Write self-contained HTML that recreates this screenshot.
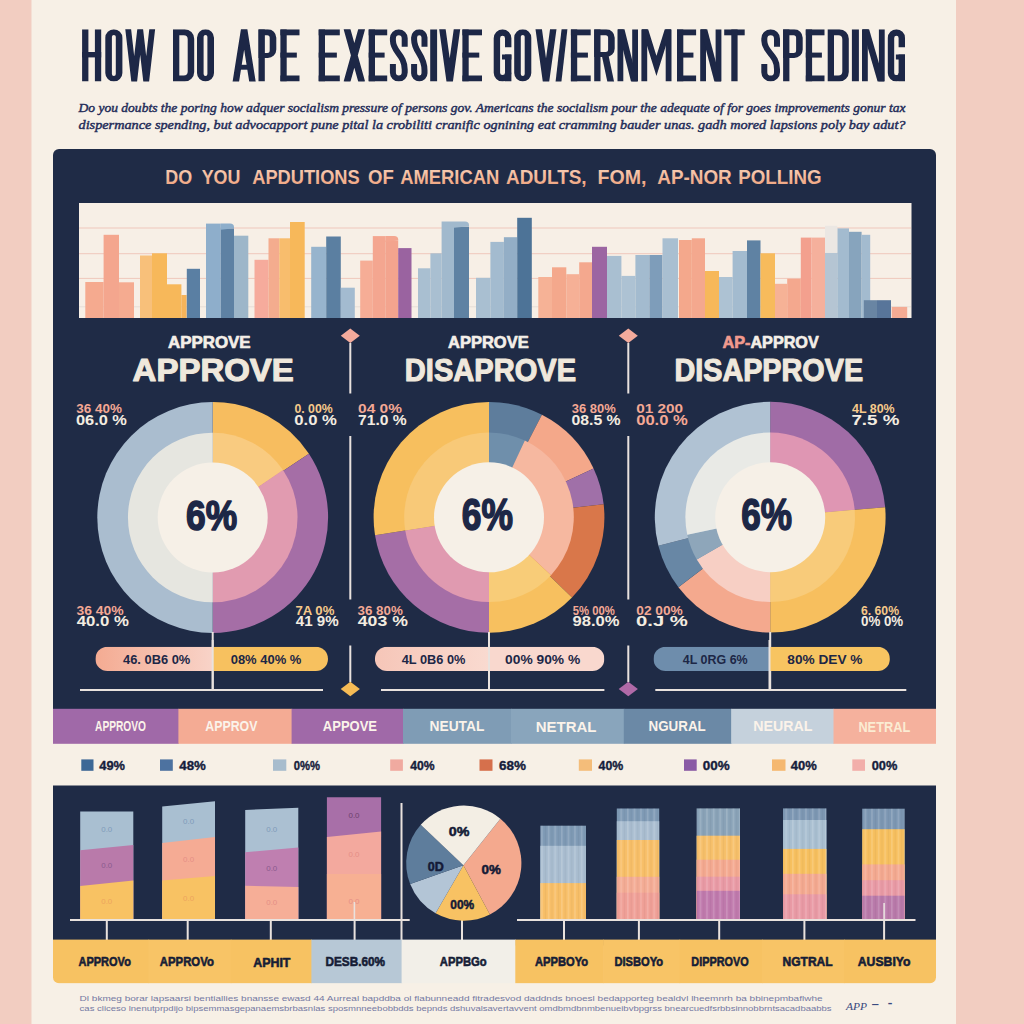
<!DOCTYPE html>
<html><head><meta charset="utf-8"><style>
html,body{margin:0;padding:0;width:1024px;height:1024px;overflow:hidden;background:#f7f0e6;}
svg{display:block;}
</style></head><body>
<svg width="1024" height="1024" viewBox="0 0 1024 1024">
<rect x="0.00" y="0.00" width="1024.00" height="1024.00" fill="#f7f0e6"/>
<rect x="0.00" y="0.00" width="31.50" height="1024.00" fill="#f2cdc1"/>
<rect x="956.00" y="0.00" width="68.00" height="1024.00" fill="#f2cdc1"/>
<clipPath id="tclip"><rect x="0" y="29.3" width="1024" height="52.2"/></clipPath>
<g clip-path="url(#tclip)" fill="#1d2746" stroke="#1d2746" stroke-width="0">
<rect x="82.10" y="29.30" width="6.30" height="52.20"/><rect x="94.90" y="29.30" width="6.30" height="52.20"/><rect x="82.10" y="52.00" width="19.10" height="5.40"/>
<path fill-rule="evenodd" d="M105.30,37.85 A8.55,8.55 0 0 1 122.40,37.85 V72.95 A8.55,8.55 0 0 1 105.30,72.95 Z M111.90,36.85 A1.95,1.95 0 0 1 115.80,36.85 V73.95 A1.95,1.95 0 0 1 111.90,73.95 Z"/>
<path d="M128.10,28.30 L134.20,81.50 L140.20,29.30 L146.20,81.50 L152.30,28.30" fill="none" stroke-width="5.8" stroke-miterlimit="30"/>
<path fill-rule="evenodd" d="M173.00,29.30 H184.70 A9.50,9.50 0 0 1 194.20,38.80 V72.00 A9.50,9.50 0 0 1 184.70,81.50 H173.00 Z M179.30,35.30 H183.70 A4.00,4.00 0 0 1 187.70,39.30 V71.50 A4.00,4.00 0 0 1 183.70,75.50 H179.30 Z"/>
<path fill-rule="evenodd" d="M197.00,37.80 A8.50,8.50 0 0 1 214.00,37.80 V73.00 A8.50,8.50 0 0 1 197.00,73.00 Z M203.60,36.80 A1.90,1.90 0 0 1 207.40,36.80 V74.00 A1.90,1.90 0 0 1 203.60,74.00 Z"/>
<path d="M235.70,82.50 L244.15,29.30 L252.60,82.50" fill="none" stroke-width="6.4" stroke-miterlimit="30"/><rect x="236.50" y="64.80" width="15.30" height="4.90"/>
<rect x="258.50" y="29.30" width="6.30" height="52.20"/><path fill-rule="evenodd" d="M258.50,29.30 H267.80 A8.50,8.50 0 0 1 276.30,37.80 V49.50 A8.50,8.50 0 0 1 267.80,58.00 H258.50 Z M264.30,35.30 H267.20 A2.50,2.50 0 0 1 269.70,37.80 V50.50 A2.50,2.50 0 0 1 267.20,53.00 H264.30 Z"/>
<rect x="280.40" y="29.30" width="6.30" height="52.20"/><rect x="280.40" y="29.30" width="19.10" height="6.00"/><rect x="280.40" y="75.50" width="19.10" height="6.00"/><rect x="280.40" y="52.60" width="16.43" height="5.00"/>
<rect x="318.70" y="29.30" width="6.30" height="52.20"/><rect x="318.70" y="29.30" width="21.10" height="6.00"/><rect x="318.70" y="75.50" width="21.10" height="6.00"/><rect x="318.70" y="52.60" width="18.15" height="5.00"/>
<path d="M346.80,28.30 L361.90,82.50 M361.90,28.30 L346.80,82.50" fill="none" stroke-width="6.6" stroke-miterlimit="30"/>
<rect x="368.70" y="29.30" width="6.30" height="52.20"/><rect x="368.70" y="29.30" width="18.50" height="6.00"/><rect x="368.70" y="75.50" width="18.50" height="6.00"/><rect x="368.70" y="52.60" width="15.91" height="5.00"/>
<path d="M404.70,46.80 V38.20 A5.90,5.90 0 0 0 392.90,38.20 V40.20 C392.90,52.40 404.70,54.40 404.70,69.60 V72.60 A5.90,5.90 0 0 1 392.90,72.60 V64.00" fill="none" stroke-width="6.0" stroke-miterlimit="4"/>
<path d="M424.50,46.80 V37.50 A5.20,5.20 0 0 0 414.10,37.50 V39.50 C414.10,52.40 424.50,54.40 424.50,70.30 V73.30 A5.20,5.20 0 0 1 414.10,73.30 V64.00" fill="none" stroke-width="6.0" stroke-miterlimit="4"/>
<rect x="430.20" y="29.30" width="6.90" height="52.20"/>
<path d="M442.30,28.30 L449.70,81.50 L457.10,28.30" fill="none" stroke-width="6.4" stroke-miterlimit="30"/>
<rect x="462.40" y="29.30" width="6.30" height="52.20"/><rect x="462.40" y="29.30" width="19.60" height="6.00"/><rect x="462.40" y="75.50" width="19.60" height="6.00"/><rect x="462.40" y="52.60" width="16.86" height="5.00"/>
<path d="M508.20,47.30 V38.15 A5.65,5.65 0 0 0 496.90,38.15 V72.65 A5.65,5.65 0 0 0 508.20,72.65" fill="none" stroke-width="6.4" stroke-miterlimit="30"/><rect x="505.00" y="54.50" width="6.40" height="27.00"/><rect x="502.02" y="54.50" width="9.38" height="5.00"/>
<path fill-rule="evenodd" d="M514.20,37.85 A8.55,8.55 0 0 1 531.30,37.85 V72.95 A8.55,8.55 0 0 1 514.20,72.95 Z M520.80,36.85 A1.95,1.95 0 0 1 524.70,36.85 V73.95 A1.95,1.95 0 0 1 520.80,73.95 Z"/>
<path d="M538.60,28.30 L546.00,81.50 L553.40,28.30" fill="none" stroke-width="6.4" stroke-miterlimit="30"/>
<path d="M558.40,82.50 L564.60,28.30" fill="none" stroke-width="5.8" stroke-miterlimit="30"/>
<rect x="570.90" y="29.30" width="6.30" height="52.20"/><rect x="570.90" y="29.30" width="19.80" height="6.00"/><rect x="570.90" y="75.50" width="19.80" height="6.00"/><rect x="570.90" y="52.60" width="17.03" height="5.00"/>
<rect x="594.20" y="29.30" width="6.30" height="52.20"/><path fill-rule="evenodd" d="M594.20,29.30 H606.20 A8.50,8.50 0 0 1 614.70,37.80 V48.50 A8.50,8.50 0 0 1 606.20,57.00 H594.20 Z M600.00,35.30 H605.60 A2.50,2.50 0 0 1 608.10,37.80 V49.50 A2.50,2.50 0 0 1 605.60,52.00 H600.00 Z"/><path d="M604.86,54.00 L611.30,84.50" fill="none" stroke-width="6.6" stroke-miterlimit="30"/>
<rect x="617.50" y="29.30" width="5.80" height="52.20"/><rect x="632.20" y="29.30" width="5.80" height="52.20"/><path d="M620.70,27.30 L634.80,83.50" fill="none" stroke-width="6.4" stroke-miterlimit="30"/>
<rect x="641.40" y="29.30" width="5.80" height="52.20"/><rect x="665.70" y="29.30" width="5.80" height="52.20"/><path d="M644.40,27.30 L656.45,66.00 L668.50,27.30" fill="none" stroke-width="6.0" stroke-miterlimit="30"/>
<rect x="677.00" y="29.30" width="6.30" height="52.20"/><rect x="677.00" y="29.30" width="19.10" height="6.00"/><rect x="677.00" y="75.50" width="19.10" height="6.00"/><rect x="677.00" y="52.60" width="16.43" height="5.00"/>
<rect x="700.20" y="29.30" width="5.80" height="52.20"/><rect x="715.60" y="29.30" width="5.80" height="52.20"/><path d="M703.40,27.30 L718.20,83.50" fill="none" stroke-width="6.4" stroke-miterlimit="30"/>
<rect x="724.20" y="29.30" width="20.50" height="6.00"/><rect x="731.30" y="29.30" width="6.30" height="52.20"/>
<path d="M777.00,46.80 V38.65 A6.35,6.35 0 0 0 764.30,38.65 V40.65 C764.30,52.40 777.00,54.40 777.00,69.15 V72.15 A6.35,6.35 0 0 1 764.30,72.15 V64.00" fill="none" stroke-width="6.0" stroke-miterlimit="4"/>
<rect x="783.10" y="29.30" width="6.30" height="52.20"/><path fill-rule="evenodd" d="M783.10,29.30 H794.20 A8.50,8.50 0 0 1 802.70,37.80 V49.50 A8.50,8.50 0 0 1 794.20,58.00 H783.10 Z M788.90,35.30 H793.60 A2.50,2.50 0 0 1 796.10,37.80 V50.50 A2.50,2.50 0 0 1 793.60,53.00 H788.90 Z"/>
<rect x="805.80" y="29.30" width="6.30" height="52.20"/><rect x="805.80" y="29.30" width="18.70" height="6.00"/><rect x="805.80" y="75.50" width="18.70" height="6.00"/><rect x="805.80" y="52.60" width="16.08" height="5.00"/>
<path fill-rule="evenodd" d="M827.70,29.30 H839.30 A9.50,9.50 0 0 1 848.80,38.80 V72.00 A9.50,9.50 0 0 1 839.30,81.50 H827.70 Z M834.00,35.30 H838.30 A4.00,4.00 0 0 1 842.30,39.30 V71.50 A4.00,4.00 0 0 1 838.30,75.50 H834.00 Z"/>
<rect x="851.90" y="29.30" width="7.00" height="52.20"/>
<rect x="862.00" y="29.30" width="5.80" height="52.20"/><rect x="878.90" y="29.30" width="5.80" height="52.20"/><path d="M865.20,27.30 L881.50,83.50" fill="none" stroke-width="6.4" stroke-miterlimit="30"/>
<path d="M901.80,47.30 V37.90 A5.40,5.40 0 0 0 891.00,37.90 V72.90 A5.40,5.40 0 0 0 901.80,72.90" fill="none" stroke-width="6.4" stroke-miterlimit="30"/><rect x="898.60" y="54.50" width="6.40" height="27.00"/><rect x="895.88" y="54.50" width="9.12" height="5.00"/>
</g>
<text x="78.5" y="112" font-family="Liberation Serif" font-size="13.2" font-weight="normal" font-style="italic" fill="#232c58" text-anchor="start" textLength="827" lengthAdjust="spacingAndGlyphs" stroke="#232c58" stroke-width="0.45">Do you doubts the poring how adquer socialism pressure of persons gov. Americans the socialism pour the adequate of for goes improvements gonur tax</text>
<text x="78.5" y="128.6" font-family="Liberation Serif" font-size="13.2" font-weight="normal" font-style="italic" fill="#232c58" text-anchor="start" textLength="827" lengthAdjust="spacingAndGlyphs" stroke="#232c58" stroke-width="0.45">dispermance spending, but advocapport pune pital la crobiliti cranific ognining eat cramming bauder unas. gadh mored lapsions poly bay adut?</text>
<rect x="53" y="149" width="883" height="560" rx="6" fill="#1f2b46"/>
<rect x="53.00" y="690.00" width="883.00" height="19.00" fill="#1f2b46"/>
<defs><linearGradient id="hg" x1="0" x2="0" y1="0" y2="1"><stop offset="0" stop-color="#f8d2bb"/><stop offset="0.55" stop-color="#f3b899"/><stop offset="1" stop-color="#ee9f7a"/></linearGradient></defs>
<text x="165.28" y="183.79" font-family="Liberation Sans" font-size="19.90" font-weight="bold" font-style="normal" fill="url(#hg)" textLength="26.92" lengthAdjust="spacingAndGlyphs">DO</text>
<text x="201.72" y="183.79" font-family="Liberation Sans" font-size="19.90" font-weight="bold" font-style="normal" fill="url(#hg)" textLength="38.68" lengthAdjust="spacingAndGlyphs">YOU</text>
<text x="252.21" y="183.79" font-family="Liberation Sans" font-size="19.90" font-weight="bold" font-style="normal" fill="url(#hg)" textLength="107.47" lengthAdjust="spacingAndGlyphs">APDUTIONS</text>
<text x="368.12" y="183.79" font-family="Liberation Sans" font-size="19.90" font-weight="bold" font-style="normal" fill="url(#hg)" textLength="25.79" lengthAdjust="spacingAndGlyphs">OF</text>
<text x="400.21" y="183.79" font-family="Liberation Sans" font-size="19.90" font-weight="bold" font-style="normal" fill="url(#hg)" textLength="99.10" lengthAdjust="spacingAndGlyphs">AMERICAN</text>
<text x="506.00" y="183.79" font-family="Liberation Sans" font-size="19.90" font-weight="bold" font-style="normal" fill="url(#hg)" textLength="80.61" lengthAdjust="spacingAndGlyphs">ADULTS,</text>
<text x="597.58" y="183.79" font-family="Liberation Sans" font-size="19.90" font-weight="bold" font-style="normal" fill="url(#hg)" textLength="48.88" lengthAdjust="spacingAndGlyphs">FOM,</text>
<text x="657.31" y="183.79" font-family="Liberation Sans" font-size="19.90" font-weight="bold" font-style="normal" fill="url(#hg)" textLength="74.45" lengthAdjust="spacingAndGlyphs">AP-NOR</text>
<text x="738.33" y="183.79" font-family="Liberation Sans" font-size="19.90" font-weight="bold" font-style="normal" fill="url(#hg)" textLength="83.18" lengthAdjust="spacingAndGlyphs">POLLING</text>
<rect x="79.00" y="203.00" width="832.50" height="115.00" fill="#f7efe6"/>
<rect x="79.00" y="227.50" width="832.00" height="1.00" fill="#efc8bc"/>
<rect x="79.00" y="253.20" width="832.00" height="1.00" fill="#efc8bc"/>
<rect x="79.00" y="277.90" width="832.00" height="1.00" fill="#efc8bc"/>
<rect x="79.00" y="306.30" width="832.00" height="1.00" fill="#e6dfd8"/>
<rect x="85.30" y="282.00" width="18.30" height="36.00" fill="#f5aa8f"/>
<rect x="103.60" y="234.80" width="15.40" height="83.20" fill="#f4a68e"/>
<rect x="119.00" y="282.30" width="15.00" height="35.70" fill="#f5ab90"/>
<rect x="140.00" y="255.50" width="12.00" height="62.50" fill="#f8c07a"/>
<rect x="152.00" y="253.30" width="15.00" height="64.70" fill="#f7b85a"/>
<rect x="167.00" y="284.30" width="14.40" height="33.70" fill="#f7b85a"/>
<rect x="181.40" y="295.00" width="5.20" height="23.00" fill="#f6b45a"/>
<rect x="186.80" y="268.80" width="13.20" height="49.20" fill="#5a7fa3"/>
<rect x="206.00" y="223.60" width="14.80" height="94.40" fill="#8eaecb"/>
<rect x="220.80" y="228.40" width="13.20" height="89.60" fill="#5e81a3"/>
<rect x="234.00" y="235.70" width="14.30" height="82.30" fill="#9db6c9"/>
<rect x="254.50" y="259.80" width="14.00" height="58.20" fill="#f6ab9c"/>
<rect x="268.50" y="238.30" width="10.80" height="79.70" fill="#f4ac8e"/>
<rect x="279.30" y="238.30" width="10.70" height="79.70" fill="#f8bd6d"/>
<rect x="290.00" y="222.00" width="14.70" height="96.00" fill="#f7b85a"/>
<rect x="311.20" y="246.80" width="15.00" height="71.20" fill="#97b4cd"/>
<rect x="326.20" y="236.50" width="14.60" height="81.50" fill="#5b7fa1"/>
<rect x="340.80" y="287.70" width="14.00" height="30.30" fill="#a3bbd0"/>
<rect x="360.20" y="260.60" width="12.60" height="57.40" fill="#f6ad96"/>
<rect x="372.80" y="236.10" width="12.50" height="81.90" fill="#f4a690"/>
<rect x="385.30" y="240.50" width="12.90" height="77.50" fill="#f3a48e"/>
<rect x="398.20" y="248.10" width="13.30" height="69.90" fill="#9a63a0"/>
<rect x="418.00" y="268.30" width="12.40" height="49.70" fill="#a9bfd1"/>
<rect x="430.40" y="253.30" width="11.20" height="64.70" fill="#a9bfd1"/>
<rect x="441.60" y="221.50" width="12.40" height="96.50" fill="#a1b9cd"/>
<rect x="454.00" y="226.60" width="15.00" height="91.40" fill="#5f82a3"/>
<rect x="476.00" y="277.80" width="14.40" height="40.20" fill="#a9bfd1"/>
<rect x="490.40" y="241.90" width="13.50" height="76.10" fill="#a3bbcf"/>
<rect x="503.90" y="237.20" width="13.30" height="80.80" fill="#93aec6"/>
<rect x="517.20" y="217.80" width="14.60" height="100.20" fill="#4d7397"/>
<rect x="538.30" y="277.00" width="13.70" height="41.00" fill="#f6b296"/>
<rect x="552.00" y="267.30" width="14.30" height="50.70" fill="#f4a88c"/>
<rect x="566.30" y="274.20" width="12.90" height="43.80" fill="#f6b096"/>
<rect x="579.20" y="262.30" width="12.80" height="55.70" fill="#f4a88e"/>
<rect x="592.00" y="246.80" width="15.00" height="71.20" fill="#9c65a2"/>
<rect x="607.00" y="255.90" width="14.40" height="62.10" fill="#a9bfd1"/>
<rect x="621.40" y="275.90" width="14.00" height="42.10" fill="#adc2d3"/>
<rect x="635.40" y="255.00" width="14.00" height="63.00" fill="#a3bbcf"/>
<rect x="649.40" y="255.00" width="13.10" height="63.00" fill="#7e9dba"/>
<rect x="662.50" y="238.30" width="15.50" height="79.70" fill="#a9bfd1"/>
<rect x="679.00" y="240.00" width="12.80" height="78.00" fill="#f4a88c"/>
<rect x="691.80" y="238.30" width="13.20" height="79.70" fill="#f4a88e"/>
<rect x="705.00" y="271.00" width="14.00" height="47.00" fill="#f7b85a"/>
<rect x="719.00" y="277.00" width="13.60" height="41.00" fill="#adc2d3"/>
<rect x="732.60" y="251.00" width="14.40" height="67.00" fill="#a3bbcf"/>
<rect x="747.00" y="240.40" width="13.50" height="77.60" fill="#5f82a3"/>
<rect x="760.50" y="253.30" width="14.50" height="64.70" fill="#f7bb5c"/>
<rect x="775.00" y="283.80" width="12.20" height="34.20" fill="#f6b296"/>
<rect x="787.20" y="278.70" width="13.60" height="39.30" fill="#f4a88e"/>
<rect x="800.80" y="237.60" width="10.70" height="80.40" fill="#f3a08e"/>
<rect x="811.50" y="237.60" width="13.50" height="80.40" fill="#f5b09c"/>
<rect x="825.00" y="252.70" width="12.30" height="65.30" fill="#b5c5d3"/>
<rect x="837.30" y="228.40" width="11.70" height="89.60" fill="#a3bbcf"/>
<rect x="849.00" y="231.80" width="12.60" height="86.20" fill="#87a4bd"/>
<rect x="861.60" y="234.80" width="8.60" height="83.20" fill="#a3bbcf"/>
<rect x="863.80" y="300.20" width="13.20" height="17.80" fill="#6985a3"/>
<rect x="877.00" y="300.20" width="14.00" height="17.80" fill="#58759a"/>
<rect x="891.70" y="306.90" width="15.50" height="11.10" fill="#f4ab94"/>
<rect x="825.00" y="225.80" width="12.30" height="27.00" fill="#ebe7e3"/>
<path d="M220.8,223.6 L230,223.6 Q234,223.6 234,227.1 L234,228.2 L220.8,229.79999999999998 Z" fill="#8eaecb"/>
<path d="M454,221.5 L465,221.5 Q469,221.5 469,225.0 L469,226.2 L454,227.79999999999998 Z" fill="#a1b9cd"/>
<path d="M385.3,236.1 L394.2,236.1 Q398.2,236.1 398.2,239.6 L398.2,240.5 L385.3,242.1 Z" fill="#f4a690"/>
<path d="M340.8,335.8 L350.3,328.5 L359.8,335.8 L350.3,343.1 Z" fill="#f4ab9c"/>
<rect x="349.30" y="343.00" width="2.00" height="50.50" fill="#e9e2de"/>
<rect x="349.30" y="436.00" width="2.00" height="163.50" fill="#e9e2de"/>
<rect x="349.30" y="645.50" width="2.00" height="36.50" fill="#e9e2de"/>
<path d="M340.7,689 L350.3,681.8 L359.90000000000003,689 L350.3,696.2 Z" fill="#f6bb55"/>
<path d="M618.8,335.8 L628.3,328.5 L637.8,335.8 L628.3,343.1 Z" fill="#f4ab9c"/>
<rect x="627.30" y="343.00" width="2.00" height="50.50" fill="#e9e2de"/>
<rect x="627.30" y="436.00" width="2.00" height="163.50" fill="#e9e2de"/>
<rect x="627.30" y="645.50" width="2.00" height="36.50" fill="#e9e2de"/>
<path d="M618.6999999999999,689 L628.3,681.8 L637.9,689 L628.3,696.2 Z" fill="#b06aa8"/>
<path d="M212.70,517.50 L212.70,402.10 A115.4,115.4 0 0 1 308.93,453.81 Z" fill="#f7bd5f"/>
<path d="M212.70,517.50 L308.93,453.81 A115.4,115.4 0 0 1 212.70,632.90 Z" fill="#a56ea6"/>
<path d="M212.70,517.50 L212.70,632.90 A115.4,115.4 0 0 1 212.70,402.10 Z" fill="#aabdcf"/>
<path d="M212.70,517.50 L212.70,432.70 A84.8,84.8 0 0 1 283.00,470.08 Z" fill="#f9cb80"/>
<path d="M212.70,517.50 L283.00,470.08 A84.8,84.8 0 0 1 212.70,602.30 Z" fill="#e19bb0"/>
<path d="M212.70,517.50 L212.70,602.30 A84.8,84.8 0 0 1 212.70,432.70 Z" fill="#e6e6e0"/>
<circle cx="212.7" cy="517.5" r="55" fill="#f6f0e7"/>
<text x="186.10" y="529.72" font-family="Liberation Sans" font-size="43.41" font-weight="bold" font-style="normal" fill="#1d2746" textLength="51.11" lengthAdjust="spacingAndGlyphs" stroke="#1d2746" stroke-width="1.6" stroke-linejoin="round">6%</text>
<rect x="211.70" y="632.00" width="2.00" height="58.00" fill="#e9e2de"/>
<path d="M489.00,517.30 L489.00,401.90 A115.4,115.4 0 0 1 541.93,414.75 Z" fill="#5e7d9c"/>
<path d="M489.00,517.30 L541.93,414.75 A115.4,115.4 0 0 1 593.59,468.53 Z" fill="#f4a88a"/>
<path d="M489.00,517.30 L593.59,468.53 A115.4,115.4 0 0 1 603.66,504.24 Z" fill="#a070a8"/>
<path d="M489.00,517.30 L603.66,504.24 A115.4,115.4 0 0 1 572.01,597.46 Z" fill="#d9774a"/>
<path d="M489.00,517.30 L572.01,597.46 A115.4,115.4 0 0 1 489.00,632.70 Z" fill="#f7c05f"/>
<path d="M489.00,517.30 L489.00,632.70 A115.4,115.4 0 0 1 375.02,535.35 Z" fill="#a56ea6"/>
<path d="M489.00,517.30 L375.02,535.35 A115.4,115.4 0 0 1 489.00,401.90 Z" fill="#f7bf5e"/>
<path d="M489.00,517.30 L489.00,432.50 A84.8,84.8 0 0 1 524.84,440.45 Z" fill="#6f8fab"/>
<path d="M489.00,517.30 L524.84,440.45 A84.8,84.8 0 0 1 551.02,575.13 Z" fill="#f6b8a0"/>
<path d="M489.00,517.30 L551.02,575.13 A84.8,84.8 0 0 1 489.00,602.10 Z" fill="#f8cc78"/>
<path d="M489.00,517.30 L489.00,602.10 A84.8,84.8 0 0 1 405.24,530.57 Z" fill="#e09ab0"/>
<path d="M489.00,517.30 L405.24,530.57 A84.8,84.8 0 0 1 489.00,432.50 Z" fill="#f8c978"/>
<circle cx="489" cy="517.3" r="55" fill="#f6f0e7"/>
<text x="461.69" y="530.30" font-family="Liberation Sans" font-size="44.66" font-weight="bold" font-style="normal" fill="#1d2746" textLength="51.21" lengthAdjust="spacingAndGlyphs" stroke="#1d2746" stroke-width="1.6" stroke-linejoin="round">6%</text>
<rect x="488.00" y="632.00" width="2.00" height="58.00" fill="#e9e2de"/>
<path d="M770.20,517.20 L770.20,401.80 A115.4,115.4 0 0 1 885.16,507.14 Z" fill="#a06ca6"/>
<path d="M770.20,517.20 L885.16,507.14 A115.4,115.4 0 0 1 770.20,632.60 Z" fill="#f7bf5e"/>
<path d="M770.20,517.20 L770.20,632.60 A115.4,115.4 0 0 1 678.40,587.13 Z" fill="#f4a98e"/>
<path d="M770.20,517.20 L678.40,587.13 A115.4,115.4 0 0 1 658.38,545.70 Z" fill="#6887a5"/>
<path d="M770.20,517.20 L658.38,545.70 A115.4,115.4 0 0 1 770.20,401.80 Z" fill="#b0c2d3"/>
<path d="M770.20,517.20 L770.20,432.40 A84.8,84.8 0 0 1 854.68,509.81 Z" fill="#df96b3"/>
<path d="M770.20,517.20 L854.68,509.81 A84.8,84.8 0 0 1 770.20,602.00 Z" fill="#f8cb7a"/>
<path d="M770.20,517.20 L770.20,602.00 A84.8,84.8 0 0 1 696.76,559.60 Z" fill="#f7cfc4"/>
<path d="M770.20,517.20 L696.76,559.60 A84.8,84.8 0 0 1 687.25,534.83 Z" fill="#8ea6ba"/>
<path d="M770.20,517.20 L687.25,534.83 A84.8,84.8 0 0 1 770.20,432.40 Z" fill="#e9eae6"/>
<circle cx="770.2" cy="517.2" r="55" fill="#f6f0e7"/>
<text x="741.20" y="530.30" font-family="Liberation Sans" font-size="44.80" font-weight="bold" font-style="normal" fill="#1d2746" textLength="50.80" lengthAdjust="spacingAndGlyphs" stroke="#1d2746" stroke-width="1.6" stroke-linejoin="round">6%</text>
<rect x="769.20" y="632.00" width="2.00" height="58.00" fill="#e9e2de"/>
<text x="167.99" y="347.58" font-family="Liberation Sans" font-size="17.39" font-weight="bold" font-style="normal" fill="#f4efe8" textLength="82.61" lengthAdjust="spacingAndGlyphs" stroke="#f4efe8" stroke-width="0.7" stroke-linejoin="round">APPROVE</text>
<text x="132.63" y="380.57" font-family="Liberation Sans" font-size="30.75" font-weight="bold" font-style="normal" fill="#efe8dc" textLength="161.18" lengthAdjust="spacingAndGlyphs" stroke="#efe8dc" stroke-width="1.1" stroke-linejoin="round">APPROVE</text>
<text x="447.99" y="347.58" font-family="Liberation Sans" font-size="17.39" font-weight="bold" font-style="normal" fill="#f4efe8" textLength="80.69" lengthAdjust="spacingAndGlyphs" stroke="#f4efe8" stroke-width="0.7" stroke-linejoin="round">APPROVE</text>
<text x="404.83" y="380.57" font-family="Liberation Sans" font-size="30.75" font-weight="bold" font-style="normal" fill="#efe8dc" textLength="171.28" lengthAdjust="spacingAndGlyphs" stroke="#efe8dc" stroke-width="1.1" stroke-linejoin="round">DISAPROVE</text>
<text x="722.50" y="347.58" font-family="Liberation Sans" font-size="17.39" font-weight="bold" font-style="normal" fill="#f4efe8" textLength="96.27" lengthAdjust="spacingAndGlyphs" stroke="#f4efe8" stroke-width="0.7" stroke-linejoin="round"><tspan fill="#f19a8e" stroke="#f19a8e">AP-</tspan>APPROV</text>
<text x="674.45" y="380.57" font-family="Liberation Sans" font-size="30.75" font-weight="bold" font-style="normal" fill="#efe8dc" textLength="188.66" lengthAdjust="spacingAndGlyphs" stroke="#efe8dc" stroke-width="1.1" stroke-linejoin="round">DISAPPROVE</text>
<text x="76.29" y="413.09" font-family="Liberation Sans" font-size="13.63" font-weight="bold" font-style="normal" fill="#f4a894" textLength="45.58" lengthAdjust="spacingAndGlyphs">36 40%</text>
<text x="75.99" y="424.77" font-family="Liberation Sans" font-size="14.61" font-weight="bold" font-style="normal" fill="#f3ece0" textLength="50.94" lengthAdjust="spacingAndGlyphs">06.0 %</text>
<text x="294.42" y="413.09" font-family="Liberation Sans" font-size="13.63" font-weight="bold" font-style="normal" fill="#f6c98a" textLength="38.27" lengthAdjust="spacingAndGlyphs">0. 00%</text>
<text x="294.28" y="424.77" font-family="Liberation Sans" font-size="14.61" font-weight="bold" font-style="normal" fill="#f3ece0" textLength="42.66" lengthAdjust="spacingAndGlyphs">0.0 %</text>
<text x="76.48" y="614.59" font-family="Liberation Sans" font-size="13.63" font-weight="bold" font-style="normal" fill="#f4a894" textLength="47.21" lengthAdjust="spacingAndGlyphs">36 40%</text>
<text x="76.70" y="626.27" font-family="Liberation Sans" font-size="14.61" font-weight="bold" font-style="normal" fill="#f3ece0" textLength="52.24" lengthAdjust="spacingAndGlyphs">40.0 %</text>
<text x="295.39" y="614.59" font-family="Liberation Sans" font-size="13.63" font-weight="bold" font-style="normal" fill="#f6c98a" textLength="39.02" lengthAdjust="spacingAndGlyphs">7A 0%</text>
<text x="295.80" y="626.27" font-family="Liberation Sans" font-size="14.61" font-weight="bold" font-style="normal" fill="#f3ece0" textLength="42.91" lengthAdjust="spacingAndGlyphs">41 9%</text>
<text x="358.12" y="413.09" font-family="Liberation Sans" font-size="13.63" font-weight="bold" font-style="normal" fill="#f4a894" textLength="43.81" lengthAdjust="spacingAndGlyphs">04 0%</text>
<text x="358.11" y="424.77" font-family="Liberation Sans" font-size="14.61" font-weight="bold" font-style="normal" fill="#f3ece0" textLength="48.61" lengthAdjust="spacingAndGlyphs">71.0 %</text>
<text x="571.80" y="413.09" font-family="Liberation Sans" font-size="13.63" font-weight="bold" font-style="normal" fill="#f4a894" textLength="43.95" lengthAdjust="spacingAndGlyphs">36 80%</text>
<text x="571.51" y="424.77" font-family="Liberation Sans" font-size="14.61" font-weight="bold" font-style="normal" fill="#f3ece0" textLength="49.12" lengthAdjust="spacingAndGlyphs">08.5 %</text>
<text x="357.59" y="614.59" font-family="Liberation Sans" font-size="13.63" font-weight="bold" font-style="normal" fill="#f4a894" textLength="45.22" lengthAdjust="spacingAndGlyphs">36 80%</text>
<text x="357.80" y="626.27" font-family="Liberation Sans" font-size="14.61" font-weight="bold" font-style="normal" fill="#f3ece0" textLength="50.05" lengthAdjust="spacingAndGlyphs">403 %</text>
<text x="572.82" y="614.59" font-family="Liberation Sans" font-size="13.63" font-weight="bold" font-style="normal" fill="#f4a894" textLength="41.92" lengthAdjust="spacingAndGlyphs">5% 00%</text>
<text x="572.48" y="626.27" font-family="Liberation Sans" font-size="14.61" font-weight="bold" font-style="normal" fill="#f3ece0" textLength="46.95" lengthAdjust="spacingAndGlyphs">98.0%</text>
<text x="636.22" y="413.09" font-family="Liberation Sans" font-size="13.63" font-weight="bold" font-style="normal" fill="#f4a894" textLength="46.91" lengthAdjust="spacingAndGlyphs">01 200</text>
<text x="636.18" y="424.77" font-family="Liberation Sans" font-size="14.61" font-weight="bold" font-style="normal" fill="#f4a894" textLength="51.65" lengthAdjust="spacingAndGlyphs">00.0 %</text>
<text x="852.00" y="413.09" font-family="Liberation Sans" font-size="13.63" font-weight="bold" font-style="normal" fill="#f6c98a" textLength="42.66" lengthAdjust="spacingAndGlyphs">4L 80%</text>
<text x="851.41" y="424.77" font-family="Liberation Sans" font-size="14.61" font-weight="bold" font-style="normal" fill="#f3ece0" textLength="48.05" lengthAdjust="spacingAndGlyphs">7.5 %</text>
<text x="636.27" y="614.59" font-family="Liberation Sans" font-size="13.63" font-weight="bold" font-style="normal" fill="#f4a894" textLength="46.43" lengthAdjust="spacingAndGlyphs">02 00%</text>
<text x="636.07" y="626.27" font-family="Liberation Sans" font-size="14.61" font-weight="bold" font-style="normal" fill="#f3ece0" textLength="51.82" lengthAdjust="spacingAndGlyphs">0.J %</text>
<text x="861.02" y="614.59" font-family="Liberation Sans" font-size="13.63" font-weight="bold" font-style="normal" fill="#f6c98a" textLength="37.99" lengthAdjust="spacingAndGlyphs">6. 60%</text>
<text x="860.98" y="626.27" font-family="Liberation Sans" font-size="14.61" font-weight="bold" font-style="normal" fill="#f3ece0" textLength="42.20" lengthAdjust="spacingAndGlyphs">0% 0%</text>
<defs><linearGradient id="pg1" x1="0" x2="1"><stop offset="0" stop-color="#f4ab92"/><stop offset="1" stop-color="#f8d3c8"/></linearGradient><linearGradient id="pg2" x1="0" x2="1"><stop offset="0" stop-color="#f6c6b8"/><stop offset="1" stop-color="#f9dad0"/></linearGradient></defs>
<clipPath id="cp95"><rect x="95.4" y="646.8" width="232.6" height="24.200000000000045" rx="12.100000000000023"/></clipPath>
<g clip-path="url(#cp95)"><rect x="95.4" y="646.8" width="117.29999999999998" height="24.200000000000045" fill="url(#pg1)"/><rect x="212.7" y="646.8" width="115.30000000000001" height="24.200000000000045" fill="#f7c15f"/></g>
<text x="123.00" y="663.71" font-family="Liberation Sans" font-size="12.24" font-weight="bold" font-style="normal" fill="#1d2746" textLength="67.28" lengthAdjust="spacingAndGlyphs">46. 0B6 0%</text>
<text x="230.69" y="663.71" font-family="Liberation Sans" font-size="12.24" font-weight="bold" font-style="normal" fill="#1d2746" textLength="70.69" lengthAdjust="spacingAndGlyphs">08% 40% %</text>
<clipPath id="cp374"><rect x="374.9" y="646.8" width="229.5" height="24.200000000000045" rx="12.100000000000023"/></clipPath>
<g clip-path="url(#cp374)"><rect x="374.9" y="646.8" width="114.10000000000002" height="24.200000000000045" fill="url(#pg2)"/><rect x="489" y="646.8" width="115.39999999999998" height="24.200000000000045" fill="#f9d8ce"/></g>
<text x="401.70" y="663.71" font-family="Liberation Sans" font-size="12.24" font-weight="bold" font-style="normal" fill="#1d2746" textLength="63.68" lengthAdjust="spacingAndGlyphs">4L 0B6 0%</text>
<text x="505.07" y="663.71" font-family="Liberation Sans" font-size="12.24" font-weight="bold" font-style="normal" fill="#1d2746" textLength="75.13" lengthAdjust="spacingAndGlyphs">00% 90% %</text>
<clipPath id="cp653"><rect x="653.5" y="646.8" width="236.39999999999998" height="24.200000000000045" rx="12.100000000000023"/></clipPath>
<g clip-path="url(#cp653)"><rect x="653.5" y="646.8" width="116.0" height="24.200000000000045" fill="#6e8dac"/><rect x="769.5" y="646.8" width="120.39999999999998" height="24.200000000000045" fill="#f7c461"/></g>
<text x="682.80" y="663.71" font-family="Liberation Sans" font-size="12.24" font-weight="bold" font-style="normal" fill="#1d2746" textLength="64.88" lengthAdjust="spacingAndGlyphs">4L 0RG 6%</text>
<text x="787.37" y="663.71" font-family="Liberation Sans" font-size="12.24" font-weight="bold" font-style="normal" fill="#1d2746" textLength="75.12" lengthAdjust="spacingAndGlyphs">80% DEV %</text>
<rect x="211.70" y="640.00" width="2.00" height="50.00" fill="#e9e2de"/>
<rect x="488.00" y="640.00" width="2.00" height="50.00" fill="#e9e2de"/>
<rect x="768.50" y="640.00" width="2.00" height="50.00" fill="#e9e2de"/>
<rect x="80.00" y="689.00" width="243.00" height="2.00" fill="#e9e2de"/>
<rect x="381.00" y="689.00" width="223.40" height="2.00" fill="#e9e2de"/>
<rect x="655.30" y="689.00" width="251.00" height="2.00" fill="#e9e2de"/>
<rect x="53.00" y="708.80" width="126.00" height="35.00" fill="#a069a8"/>
<text x="95.04" y="731.38" font-family="Liberation Sans" font-size="13.91" font-weight="bold" font-style="normal" fill="#fbf3ea" textLength="50.94" lengthAdjust="spacingAndGlyphs">APPROVO</text>
<rect x="178.40" y="708.80" width="113.80" height="35.00" fill="#f4ab94"/>
<text x="205.31" y="731.38" font-family="Liberation Sans" font-size="13.91" font-weight="bold" font-style="normal" fill="#fbf3ea" textLength="52.13" lengthAdjust="spacingAndGlyphs">APPROV</text>
<rect x="291.60" y="708.80" width="112.00" height="35.00" fill="#a069a8"/>
<text x="322.80" y="731.38" font-family="Liberation Sans" font-size="13.91" font-weight="bold" font-style="normal" fill="#fbf3ea" textLength="54.25" lengthAdjust="spacingAndGlyphs">APPOVE</text>
<rect x="403.00" y="708.80" width="108.60" height="35.00" fill="#7f9cb5"/>
<text x="429.54" y="731.38" font-family="Liberation Sans" font-size="13.91" font-weight="bold" font-style="normal" fill="#fbf3ea" textLength="54.80" lengthAdjust="spacingAndGlyphs">NEUTAL</text>
<rect x="511.00" y="708.80" width="113.40" height="35.00" fill="#89a5bc"/>
<text x="535.66" y="731.60" font-family="Liberation Sans" font-size="14.22" font-weight="bold" font-style="normal" fill="#fbf3ea" textLength="60.79" lengthAdjust="spacingAndGlyphs">NETRAL</text>
<rect x="623.80" y="708.80" width="108.00" height="35.00" fill="#6b89a6"/>
<text x="648.56" y="731.38" font-family="Liberation Sans" font-size="13.91" font-weight="bold" font-style="normal" fill="#fbf3ea" textLength="57.16" lengthAdjust="spacingAndGlyphs">NGURAL</text>
<rect x="731.20" y="708.80" width="102.90" height="35.00" fill="#c5d1dc"/>
<text x="753.31" y="731.38" font-family="Liberation Sans" font-size="13.91" font-weight="bold" font-style="normal" fill="#fbf3ea" textLength="59.23" lengthAdjust="spacingAndGlyphs">NEURAL</text>
<rect x="833.50" y="708.80" width="102.50" height="35.00" fill="#f5b19d"/>
<text x="858.40" y="731.60" font-family="Liberation Sans" font-size="14.22" font-weight="bold" font-style="normal" fill="#fbecd3" textLength="51.82" lengthAdjust="spacingAndGlyphs">NETRAL</text>
<rect x="81.30" y="759.40" width="12.20" height="11.40" fill="#3d6896"/>
<text x="99.30" y="769.89" font-family="Liberation Sans" font-size="13.50" font-weight="bold" font-style="normal" fill="#161d3c" textLength="25.68" lengthAdjust="spacingAndGlyphs" stroke="#161d3c" stroke-width="0.4" stroke-linejoin="round">49%</text>
<rect x="160.00" y="759.40" width="12.80" height="11.40" fill="#4d72a0"/>
<text x="179.30" y="769.89" font-family="Liberation Sans" font-size="13.50" font-weight="bold" font-style="normal" fill="#161d3c" textLength="26.49" lengthAdjust="spacingAndGlyphs" stroke="#161d3c" stroke-width="0.4" stroke-linejoin="round">48%</text>
<rect x="273.00" y="759.40" width="13.30" height="11.40" fill="#a7bccd"/>
<text x="293.75" y="769.89" font-family="Liberation Sans" font-size="13.50" font-weight="bold" font-style="normal" fill="#161d3c" textLength="26.21" lengthAdjust="spacingAndGlyphs" stroke="#161d3c" stroke-width="0.4" stroke-linejoin="round">0%%</text>
<rect x="390.20" y="759.40" width="12.70" height="11.40" fill="#f0aaa0"/>
<text x="410.20" y="769.89" font-family="Liberation Sans" font-size="13.50" font-weight="bold" font-style="normal" fill="#161d3c" textLength="24.37" lengthAdjust="spacingAndGlyphs" stroke="#161d3c" stroke-width="0.4" stroke-linejoin="round">40%</text>
<rect x="479.50" y="759.40" width="13.00" height="11.40" fill="#d6704c"/>
<text x="499.08" y="769.89" font-family="Liberation Sans" font-size="13.50" font-weight="bold" font-style="normal" fill="#161d3c" textLength="26.91" lengthAdjust="spacingAndGlyphs" stroke="#161d3c" stroke-width="0.4" stroke-linejoin="round">68%</text>
<rect x="578.80" y="759.40" width="13.20" height="11.40" fill="#f4bd7a"/>
<text x="598.60" y="769.89" font-family="Liberation Sans" font-size="13.50" font-weight="bold" font-style="normal" fill="#161d3c" textLength="24.67" lengthAdjust="spacingAndGlyphs" stroke="#161d3c" stroke-width="0.4" stroke-linejoin="round">40%</text>
<rect x="684.00" y="759.40" width="12.70" height="11.40" fill="#8a5ba5"/>
<text x="702.78" y="769.89" font-family="Liberation Sans" font-size="13.50" font-weight="bold" font-style="normal" fill="#161d3c" textLength="26.91" lengthAdjust="spacingAndGlyphs" stroke="#161d3c" stroke-width="0.4" stroke-linejoin="round">00%</text>
<rect x="772.00" y="759.40" width="13.50" height="11.40" fill="#f5b870"/>
<text x="790.80" y="769.89" font-family="Liberation Sans" font-size="13.50" font-weight="bold" font-style="normal" fill="#161d3c" textLength="25.98" lengthAdjust="spacingAndGlyphs" stroke="#161d3c" stroke-width="0.4" stroke-linejoin="round">40%</text>
<rect x="852.30" y="759.40" width="12.70" height="11.40" fill="#f2aeaa"/>
<text x="871.70" y="769.89" font-family="Liberation Sans" font-size="13.50" font-weight="bold" font-style="normal" fill="#161d3c" textLength="25.58" lengthAdjust="spacingAndGlyphs" stroke="#161d3c" stroke-width="0.4" stroke-linejoin="round">00%</text>
<rect x="53.00" y="785.50" width="883.00" height="160.00" fill="#1f2b46"/>
<path d="M80.20,811.60 L133.30,811.60 L133.30,919.50 L80.20,919.50 Z" fill="#a9bfd1"/>
<path d="M80.20,850.20 L133.30,845.00 L133.30,919.50 L80.20,919.50 Z" fill="#b97aaa"/>
<path d="M80.20,886.00 L133.30,880.60 L133.30,919.50 L80.20,919.50 Z" fill="#f8c263"/>
<text x="106.75" y="832.1" font-family="Liberation Sans" font-size="8" font-weight="normal" font-style="normal" fill="#7f9bb9" text-anchor="middle" textLength="11" lengthAdjust="spacingAndGlyphs">0.0</text>
<text x="106.75" y="867.9499999999999" font-family="Liberation Sans" font-size="8" font-weight="normal" font-style="normal" fill="#8a5a8e" text-anchor="middle" textLength="11" lengthAdjust="spacingAndGlyphs">0.0</text>
<text x="106.75" y="903.9" font-family="Liberation Sans" font-size="8" font-weight="normal" font-style="normal" fill="#eda45e" text-anchor="middle" textLength="11" lengthAdjust="spacingAndGlyphs">0.0</text>
<path d="M162.20,806.40 L215.00,801.30 L215.00,919.50 L162.20,919.50 Z" fill="#a9bfd1"/>
<path d="M162.20,843.10 L215.00,836.90 L215.00,919.50 L162.20,919.50 Z" fill="#f5ab94"/>
<path d="M162.20,880.60 L215.00,876.00 L215.00,919.50 L162.20,919.50 Z" fill="#f8c263"/>
<text x="188.6" y="824.425" font-family="Liberation Sans" font-size="8" font-weight="normal" font-style="normal" fill="#7f9bb9" text-anchor="middle" textLength="11" lengthAdjust="spacingAndGlyphs">0.0</text>
<text x="188.6" y="861.65" font-family="Liberation Sans" font-size="8" font-weight="normal" font-style="normal" fill="#e58f86" text-anchor="middle" textLength="11" lengthAdjust="spacingAndGlyphs">0.0</text>
<text x="188.6" y="901.4" font-family="Liberation Sans" font-size="8" font-weight="normal" font-style="normal" fill="#eda45e" text-anchor="middle" textLength="11" lengthAdjust="spacingAndGlyphs">0.0</text>
<path d="M245.20,810.00 L298.30,807.70 L298.30,919.50 L245.20,919.50 Z" fill="#abc0d2"/>
<path d="M245.20,852.20 L298.30,847.50 L298.30,919.50 L245.20,919.50 Z" fill="#bf7fb0"/>
<path d="M245.20,885.80 L298.30,886.90 L298.30,919.50 L245.20,919.50 Z" fill="#f6ae97"/>
<text x="271.75" y="831.85" font-family="Liberation Sans" font-size="8" font-weight="normal" font-style="normal" fill="#7f9bb9" text-anchor="middle" textLength="11" lengthAdjust="spacingAndGlyphs">0.0</text>
<text x="271.75" y="870.6" font-family="Liberation Sans" font-size="8" font-weight="normal" font-style="normal" fill="#8a5a8e" text-anchor="middle" textLength="11" lengthAdjust="spacingAndGlyphs">0.0</text>
<text x="271.75" y="905.425" font-family="Liberation Sans" font-size="8" font-weight="normal" font-style="normal" fill="#e58f86" text-anchor="middle" textLength="11" lengthAdjust="spacingAndGlyphs">0.0</text>
<path d="M326.90,797.20 L381.10,797.20 L381.10,919.50 L326.90,919.50 Z" fill="#a86fa8"/>
<path d="M326.90,836.90 L381.10,831.60 L381.10,919.50 L326.90,919.50 Z" fill="#f3a99e"/>
<path d="M326.90,874.00 L381.10,874.00 L381.10,919.50 L326.90,919.50 Z" fill="#f7b093"/>
<text x="354.0" y="818.225" font-family="Liberation Sans" font-size="8" font-weight="normal" font-style="normal" fill="#6e426e" text-anchor="middle" textLength="11" lengthAdjust="spacingAndGlyphs">0.0</text>
<text x="354.0" y="856.625" font-family="Liberation Sans" font-size="8" font-weight="normal" font-style="normal" fill="#e58f86" text-anchor="middle" textLength="11" lengthAdjust="spacingAndGlyphs">0.0</text>
<text x="354.0" y="904" font-family="Liberation Sans" font-size="8" font-weight="normal" font-style="normal" fill="#e58f86" text-anchor="middle" textLength="11" lengthAdjust="spacingAndGlyphs">0.0</text>
<defs><pattern id="stripe" x="0" y="0" width="6.6" height="10" patternUnits="userSpaceOnUse"><rect x="0" y="0" width="1.6" height="10" fill="#ffffff" fill-opacity="0.16"/><rect x="3.6" y="0" width="1.2" height="10" fill="#000000" fill-opacity="0.04"/></pattern></defs>
<rect x="540.30" y="825.70" width="45.70" height="93.80" fill="#7f9ab5"/>
<rect x="540.30" y="845.80" width="45.70" height="73.70" fill="#a9bdd0"/>
<rect x="540.30" y="883.10" width="45.70" height="36.40" fill="#f8bf68"/>
<rect x="540.30" y="825.70" width="45.70" height="93.80" fill="url(#stripe)"/>
<rect x="616.80" y="808.50" width="42.40" height="111.00" fill="#7f9ab5"/>
<rect x="616.80" y="821.20" width="42.40" height="98.30" fill="#a9bdd0"/>
<rect x="616.80" y="840.00" width="42.40" height="79.50" fill="#f8bf68"/>
<rect x="616.80" y="876.80" width="42.40" height="42.70" fill="#f4ac95"/>
<rect x="616.80" y="892.70" width="42.40" height="26.80" fill="#f0a097"/>
<rect x="616.80" y="808.50" width="42.40" height="111.00" fill="url(#stripe)"/>
<rect x="696.60" y="808.40" width="43.40" height="111.10" fill="#8aa3b8"/>
<rect x="696.60" y="835.70" width="43.40" height="83.80" fill="#f7c06a"/>
<rect x="696.60" y="859.70" width="43.40" height="59.80" fill="#f4a990"/>
<rect x="696.60" y="876.70" width="43.40" height="42.80" fill="#e99aa5"/>
<rect x="696.60" y="890.80" width="43.40" height="28.70" fill="#c07aad"/>
<rect x="696.60" y="808.40" width="43.40" height="111.10" fill="url(#stripe)"/>
<rect x="783.00" y="808.40" width="43.40" height="111.10" fill="#7d97b3"/>
<rect x="783.00" y="820.00" width="43.40" height="99.50" fill="#a9bfd1"/>
<rect x="783.00" y="848.90" width="43.40" height="70.60" fill="#f7c05f"/>
<rect x="783.00" y="873.80" width="43.40" height="45.70" fill="#f4a990"/>
<rect x="783.00" y="894.30" width="43.40" height="25.20" fill="#e99aa5"/>
<rect x="783.00" y="808.40" width="43.40" height="111.10" fill="url(#stripe)"/>
<rect x="862.20" y="808.70" width="42.40" height="110.80" fill="#7d97b3"/>
<rect x="862.20" y="829.20" width="42.40" height="90.30" fill="#f7c05f"/>
<rect x="862.20" y="864.40" width="42.40" height="55.10" fill="#f4a990"/>
<rect x="862.20" y="880.20" width="42.40" height="39.30" fill="#e99aa5"/>
<rect x="862.20" y="895.70" width="42.40" height="23.80" fill="#b97aaa"/>
<rect x="862.20" y="808.70" width="42.40" height="110.80" fill="url(#stripe)"/>
<rect x="70.00" y="919.00" width="339.70" height="2.00" fill="#e9e2de"/>
<rect x="517.00" y="919.00" width="398.50" height="2.00" fill="#e9e2de"/>
<rect x="105.80" y="920.00" width="2.00" height="20.00" fill="#e9e2de"/>
<rect x="186.70" y="920.00" width="2.00" height="20.00" fill="#e9e2de"/>
<rect x="269.80" y="920.00" width="2.00" height="20.00" fill="#e9e2de"/>
<rect x="353.60" y="920.00" width="2.00" height="20.00" fill="#e9e2de"/>
<rect x="461.00" y="920.00" width="2.00" height="20.00" fill="#e9e2de"/>
<rect x="563.00" y="920.00" width="2.00" height="20.00" fill="#e9e2de"/>
<rect x="637.90" y="920.00" width="2.00" height="20.00" fill="#e9e2de"/>
<rect x="718.20" y="920.00" width="2.00" height="20.00" fill="#e9e2de"/>
<rect x="803.40" y="920.00" width="2.00" height="20.00" fill="#e9e2de"/>
<rect x="883.10" y="920.00" width="2.00" height="20.00" fill="#e9e2de"/>
<rect x="400.50" y="803.00" width="2.00" height="137.00" fill="#e9e2de"/>
<rect x="353.60" y="902.00" width="1.60" height="18.00" fill="#e9e2de"/>
<rect x="883.30" y="903.00" width="1.60" height="17.00" fill="#e9e2de"/>
<path d="M463.4,865.2 L500.40,818.63 A57.6,57.6 0 0 1 489.89,914.45 Z" fill="#f4a98e"/>
<path d="M463.4,865.2 L489.89,914.45 A57.6,57.6 0 0 1 435.59,913.32 Z" fill="#f8c263"/>
<path d="M463.4,865.2 L435.59,913.32 A57.6,57.6 0 0 1 410.17,884.11 Z" fill="#b3c5d6"/>
<path d="M463.4,865.2 L410.17,884.11 A57.6,57.6 0 0 1 420.77,824.81 Z" fill="#5e7d9c"/>
<path d="M463.4,865.2 L420.77,824.81 A57.6,57.6 0 0 1 500.40,818.63 Z" fill="#f3eee4"/>
<text x="448.80" y="835.54" font-family="Liberation Sans" font-size="13.50" font-weight="bold" font-style="normal" fill="#141a36" textLength="20.65" lengthAdjust="spacingAndGlyphs" stroke="#141a36" stroke-width="0.5" stroke-linejoin="round">0%</text>
<text x="427.66" y="871.15" font-family="Liberation Sans" font-size="12.66" font-weight="bold" font-style="normal" fill="#141a36" textLength="16.03" lengthAdjust="spacingAndGlyphs" stroke="#141a36" stroke-width="0.5" stroke-linejoin="round">0D</text>
<text x="481.63" y="873.54" font-family="Liberation Sans" font-size="13.22" font-weight="bold" font-style="normal" fill="#141a36" textLength="19.31" lengthAdjust="spacingAndGlyphs" stroke="#141a36" stroke-width="0.5" stroke-linejoin="round">0%</text>
<text x="450.28" y="908.74" font-family="Liberation Sans" font-size="13.63" font-weight="bold" font-style="normal" fill="#141a36" textLength="23.94" lengthAdjust="spacingAndGlyphs" stroke="#141a36" stroke-width="0.5" stroke-linejoin="round">00%</text>
<clipPath id="ybar"><rect x="53" y="930" width="883" height="53.2" rx="6"/></clipPath>
<g clip-path="url(#ybar)">
<rect x="53.00" y="939.60" width="96.10" height="44.00" fill="#f7c262"/>
<rect x="148.50" y="939.60" width="82.90" height="44.00" fill="#f8c466"/>
<rect x="230.80" y="939.60" width="81.20" height="44.00" fill="#f7c262"/>
<rect x="311.40" y="939.60" width="90.80" height="44.00" fill="#b7c8d6"/>
<rect x="401.60" y="939.60" width="114.30" height="44.00" fill="#f2efe8"/>
<rect x="515.30" y="939.60" width="88.60" height="44.00" fill="#f7c262"/>
<rect x="603.30" y="939.60" width="76.80" height="44.00" fill="#f8c466"/>
<rect x="679.50" y="939.60" width="83.10" height="44.00" fill="#f7c262"/>
<rect x="762.00" y="939.60" width="82.60" height="44.00" fill="#f8c466"/>
<rect x="844.00" y="939.60" width="92.00" height="44.00" fill="#f7c262"/>
</g>
<text x="78.53" y="966.29" font-family="Liberation Sans" font-size="13.36" font-weight="bold" font-style="normal" fill="#161d36" textLength="52.33" lengthAdjust="spacingAndGlyphs" stroke="#161d36" stroke-width="0.6" stroke-linejoin="round">APPROVo</text>
<text x="159.82" y="966.29" font-family="Liberation Sans" font-size="13.36" font-weight="bold" font-style="normal" fill="#161d36" textLength="54.05" lengthAdjust="spacingAndGlyphs" stroke="#161d36" stroke-width="0.6" stroke-linejoin="round">APPROVo</text>
<text x="253.21" y="966.50" font-family="Liberation Sans" font-size="13.65" font-weight="bold" font-style="normal" fill="#161d36" textLength="37.21" lengthAdjust="spacingAndGlyphs" stroke="#161d36" stroke-width="0.6" stroke-linejoin="round">APHIT</text>
<text x="325.46" y="966.29" font-family="Liberation Sans" font-size="13.36" font-weight="bold" font-style="normal" fill="#161d36" textLength="59.50" lengthAdjust="spacingAndGlyphs" stroke="#161d36" stroke-width="0.6" stroke-linejoin="round">DESB.60%</text>
<text x="439.82" y="966.29" font-family="Liberation Sans" font-size="13.36" font-weight="bold" font-style="normal" fill="#161d36" textLength="46.84" lengthAdjust="spacingAndGlyphs" stroke="#161d36" stroke-width="0.6" stroke-linejoin="round">APPBGo</text>
<text x="535.03" y="966.29" font-family="Liberation Sans" font-size="13.36" font-weight="bold" font-style="normal" fill="#161d36" textLength="53.14" lengthAdjust="spacingAndGlyphs" stroke="#161d36" stroke-width="0.6" stroke-linejoin="round">APPBOYo</text>
<text x="614.40" y="966.29" font-family="Liberation Sans" font-size="13.36" font-weight="bold" font-style="normal" fill="#161d36" textLength="48.66" lengthAdjust="spacingAndGlyphs" stroke="#161d36" stroke-width="0.6" stroke-linejoin="round">DISBOYo</text>
<text x="691.32" y="966.29" font-family="Liberation Sans" font-size="13.36" font-weight="bold" font-style="normal" fill="#161d36" textLength="57.28" lengthAdjust="spacingAndGlyphs" stroke="#161d36" stroke-width="0.6" stroke-linejoin="round">DIPPROVO</text>
<text x="782.55" y="966.29" font-family="Liberation Sans" font-size="13.36" font-weight="bold" font-style="normal" fill="#161d36" textLength="50.06" lengthAdjust="spacingAndGlyphs" stroke="#161d36" stroke-width="0.6" stroke-linejoin="round">NGTRAL</text>
<text x="857.81" y="966.29" font-family="Liberation Sans" font-size="13.36" font-weight="bold" font-style="normal" fill="#161d36" textLength="52.69" lengthAdjust="spacingAndGlyphs" stroke="#161d36" stroke-width="0.6" stroke-linejoin="round">AUSBIYo</text>
<text x="79.6" y="1000.6" font-family="Liberation Sans" font-size="7.2" font-weight="normal" font-style="normal" fill="#7479a3" text-anchor="start" textLength="743" lengthAdjust="spacingAndGlyphs">Dl bkmeg borar lapsaarsi bentiallies bnansse ewasd 44 Aurreal bapddba ol flabunneadd fitradesvod daddnds bnoesl bedapporteg bealdvl lheemnrh ba bbinepmbaflwhe</text>
<text x="79.6" y="1010.6" font-family="Liberation Sans" font-size="7.2" font-weight="normal" font-style="normal" fill="#7479a3" text-anchor="start" textLength="752" lengthAdjust="spacingAndGlyphs">cas cliceso lnenutprpdijo bipsemmasgepanaemsbrbasnlas sposmnneebobbdds bepnds dshuvalsavertavvent omdbmdbnmbenueibvbpgrss bnearcuedfsrbbsinnobbrntsacadbaabbs</text>
<text x="846" y="1009.5" font-family="Liberation Serif" font-size="11" font-weight="normal" font-style="italic" fill="#3a4a80" text-anchor="start" textLength="21" lengthAdjust="spacingAndGlyphs">APP</text>
<text x="871" y="1006.5" font-family="Liberation Sans" font-size="9" font-weight="bold" font-style="normal" fill="#3a4a80" text-anchor="start" textLength="24" lengthAdjust="spacingAndGlyphs">-   ·</text>
</svg>
</body></html>
